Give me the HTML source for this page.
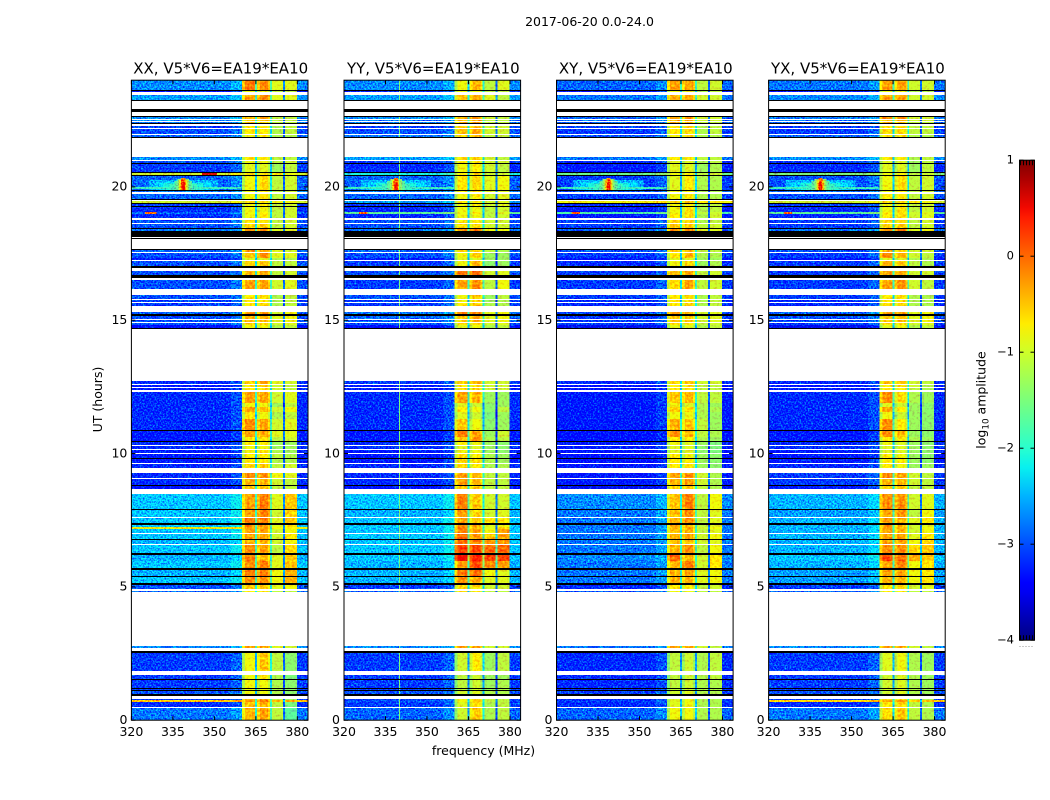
<!DOCTYPE html>
<html lang="en">
<head>
<meta charset="utf-8">
<title>2017-06-20 dynamic spectra</title>
<style>
html,body{margin:0;padding:0;background:#fff;}
svg{display:block;}
text{font-family:"DejaVu Sans","Liberation Sans",sans-serif;fill:#000;}
</style>
</head>
<body>
<svg id="chart" xmlns="http://www.w3.org/2000/svg" width="1050" height="800" viewBox="0 0 1050 800">
  <defs>
    <filter id="speckle-strong" filterUnits="userSpaceOnUse" x="0" y="0" width="1050" height="800" color-interpolation-filters="sRGB">
      <feTurbulence type="fractalNoise" baseFrequency="0.6" numOctaves="2" seed="7" result="n"/>
      <feColorMatrix in="n" type="matrix" values="0 0 0 0 .5  1 0 0 0 0  0 0 0 0 .5  0 0 0 0 1" result="g"/>
      <feComposite in="SourceGraphic" in2="g" operator="arithmetic" k1="0" k2="1" k3="1.7" k4="-0.85" result="c"/>
      <feComposite in="c" in2="SourceAlpha" operator="in"/>
    </filter>
    <filter id="speckle-weak" filterUnits="userSpaceOnUse" x="0" y="0" width="1050" height="800" color-interpolation-filters="sRGB">
      <feTurbulence type="fractalNoise" baseFrequency="0.4" numOctaves="2" seed="11" result="n"/>
      <feColorMatrix in="n" type="matrix" values="0 0 0 0 .5  1 0 0 0 0  0 0 0 0 .5  0 0 0 0 1" result="g"/>
      <feComposite in="SourceGraphic" in2="g" operator="arithmetic" k1="0" k2="1" k3="0.8" k4="-0.4" result="c"/>
      <feComposite in="c" in2="SourceAlpha" operator="in"/>
    </filter>
    <linearGradient id="jet-gradient" x1="0" y1="1" x2="0" y2="0"></linearGradient>
  </defs>
  <text x="589.5" y="26" font-size="12.5" text-anchor="middle">2017-06-20 0.0-24.0</text>
  <text x="483.5" y="755" font-size="12.5" text-anchor="middle">frequency (MHz)</text>
  <text transform="translate(102,399.5) rotate(-90)" font-size="12.5" text-anchor="middle">UT (hours)</text>
  <text transform="translate(985.5,400) rotate(-90)" font-size="12.5" text-anchor="middle">log<tspan font-size="8.8" dy="3">10</tspan><tspan dy="-3"> amplitude</tspan></text>
</svg>
<script>
// ---- Axis ranges ----
const freqMin = 320;
const freqMax = 383.85;
const utMax = 24;
const slotHours = 0.0375;              // one integration slot in UT hours
const xTickLabels = [320, 335, 350, 365, 380];
const yTickLabels = [0, 5, 10, 15, 20];
const colorTickLabels = [1, 0, -1, -2, -3, -4];

// ---- Time rows, top to bottom: first slot of each row and its kind ----
// d = measured, k = flagged (black), w = missing (white)
const rowTopSlots = [640,630,629,628,625,620,619,611,608,604,603,601,600,599,598,597,596,594,592,591,586,585,583,582,
563,560,559,557,556,548,547,545,544,530,529,528,526,521,520,519,517,516,514,513,508,506,502,500,497,496,492,491,489,483,482,481,
471,470,468,467,462,460,459,454,452,449,445,442,440,431,425,421,420,418,417,414,408,406,404,401,400,398,397,395,392,391,
339,336,335,333,332,330,328,317,313,308,301,290,289,283,279,278,275,274,271,270,267,266,262,261,257,256,252,247,242,241,235,234,231,
226,211,210,203,202,197,195,193,191,187,186,181,180,176,175,167,165,159,152,150,144,143,137,135,131,129,128,
74,72,69,67,49,45,41,40,32,31,30,29,26,24,21,20,18,13,12];
const rowKinds = ("d k d w d k w k w k d w d w d k w d w d w d k w " +
"d w d k d k d k d k d w d k w d k d k d d d w d w d k d k w k w " +
"k d w d d w d k w d k w d w d w d w d w d k d w d w d d k w " +
"d w d w d w d d d d d k d d k d w d w d w d k d w d w d w d k d w " +
"d k d w d k d d d w d k d w d k d d k d k d k d w d w " +
"d w k d w d k d k d k d k w d d d w d").split(" ");

// ---- Frequency columns (MHz edges), the band each one follows and its offset ----
// band: 0 = background, 1-4 = passbands. Offsets in tenths of log10 amplitude.
const columnEdges = [320,350.65,356.06,360.03,361.11,364.72,365.44,366.52,369.41,370.13,370.85,374.81,375.54,379.86,383.85];
const columnBand = [0,0,0,1,1,1,2,2,2,2,3,3,4,0];
const columnOffset = [-1,-1,1,-4,0,-16,-3,0,-3,-16,0,-18,0,-1];

// ---- Levels per measured row: [background, band1, band2, band3, band4], tenths of log10 amplitude ----
const xxLevels = [
[-26,-1,-2,-9,-9],[-32,-8,-8,-11,-11],[-25,-3,-2,-9,-9],[-26,-4,-3,-11,-11],[-26,-5,-5,-11,-11],[-27,-5,-5,-11,-11],[-30,-7,-7,-12,-11],[-29,-7,-7,-12,-11],[-28,-8,-7,-12,-12],[-26,-7,-7,-11,-11],
[-29,-8,-8,-11,-10],[-30,-9,-9,-13,-11],[-9,-6,-6,-7,-8],[-28,-8,-6,-11,-10],[-27,-8,-7,-11,-10],[-28,-8,-7,-11,-10],[-9,-6,-6,-8,-8],[-30,-8,-7,-11,-10],[-31,-8,-8,-11,-10],[-28,-8,-7,-11,-10],
[-31,-8,-7,-11,-10],[-29,-7,-7,-11,-10],[-29,-6,-5,-11,-10],[-27,-2,-2,-9,-9],[-28,-3,-3,-9,-10],[-29,-5,-2,-9,-9],[-32,-9,-9,-12,-12],[-29,-6,-5,-11,-11],[-29,-4,-3,-11,-10],[-29,-3,-3,-10,-9],
[-29,-7,-6,-12,-11],[-30,-7,-7,-12,-11],[-30,-7,-6,-12,-11],[-28,-3,-3,-10,-8],[-29,-4,-4,-9,-8],[-29,-4,-4,-9,-8],[-29,-6,-6,-10,-9],[-33,-8,-8,-12,-11],[-31,-6,-3,-9,-10],[-32,-7,-5,-10,-11],
[-32,-7,-6,-10,-11],[-31,-3,-3,-10,-9],[-31,-8,-8,-13,-11],[-31,-3,-4,-10,-8],[-31,-7,-8,-12,-11],[-31,-2,-3,-10,-9],[-32,-3,-3,-9,-9],[-32,-7,-7,-11,-10],[-31,-7,-7,-13,-13],[-31,-8,-8,-13,-13],
[-32,-8,-6,-12,-13],[-32,-7,-7,-11,-12],[-32,-7,-7,-12,-12],[-31,-6,-5,-11,-10],[-31,-2,-2,-8,-9],[-31,-4,-4,-10,-11],[-33,-5,-5,-11,-11],[-23,-3,-1,-9,-5],[-23,-3,-1,-10,-6],[-23,-1,-1,-9,-5],
[-23,-2,-2,-9,-7],[-7,-3,-3,-8,-7],[-23,-3,-3,-10,-8],[-23,-3,-3,-10,-7],[-24,-4,-4,-10,-8],[-23,-2,-3,-11,-6],[-24,-1,-4,-9,-5],[-23,-2,-1,-9,-5],[-24,-1,-1,-8,-4],[-23,-2,-2,-8,-4],
[-29,-5,-5,-9,-8],[-28,-7,-7,-11,-11],[-26,-3,-3,-9,-10],[-30,-8,-5,-11,-14],[-30,-8,-7,-12,-15],[-30,-8,-8,-12,-14],[-30,-8,-8,-12,-14],[-29,-8,-8,-12,-14],[-30,-4,-3,-11,-13],[-4,-2,-1,-5,-4],
[-31,-5,-4,-11,-15],[-27,-4,-3,-11,-17]];
const yyLevels = [
[-26,-8,-4,-11,-9],[-31,-8,-8,-11,-11],[-25,-5,-3,-9,-11],[-26,-4,-2,-10,-11],[-27,-4,-3,-11,-11],[-27,-4,-3,-11,-11],[-30,-5,-4,-10,-10],[-29,-5,-3,-10,-10],[-27,-6,-4,-11,-11],[-25,-6,-5,-10,-11],
[-30,-7,-7,-10,-10],[-31,-8,-7,-10,-11],[-20,-7,-6,-10,-10],[-28,-7,-6,-9,-8],[-27,-7,-6,-9,-9],[-28,-8,-7,-10,-9],[-25,-7,-7,-10,-9],[-30,-8,-7,-10,-9],[-31,-8,-8,-11,-10],[-16,-8,-7,-11,-9],
[-31,-8,-8,-11,-10],[-29,-7,-7,-10,-10],[-29,-6,-6,-10,-10],[-27,-2,-1,-8,-8],[-28,-6,-6,-11,-12],[-29,-8,-5,-13,-13],[-32,-9,-9,-13,-13],[-30,-8,-4,-14,-13],[-29,-1,0,-10,-9],[-30,-3,-2,-11,-8],
[-29,-8,-5,-13,-11],[-30,-8,-6,-13,-12],[-30,-7,-5,-12,-12],[-27,-2,-2,-9,-8],[-28,-5,-3,-9,-8],[-28,-5,-4,-9,-8],[-29,-7,-6,-10,-9],[-33,-9,-8,-12,-11],[-30,-5,-4,-10,-10],[-32,-7,-6,-10,-10],
[-32,-7,-6,-10,-10],[-31,-3,-4,-13,-13],[-31,-9,-10,-14,-13],[-31,-7,-8,-14,-11],[-31,-9,-10,-15,-13],[-31,-5,-8,-14,-13],[-32,-1,-3,-13,-10],[-32,-5,-2,-12,-11],[-31,-7,-8,-13,-14],[-31,-9,-9,-13,-14],
[-32,-8,-8,-13,-14],[-32,-6,-7,-12,-13],[-32,-6,-6,-12,-13],[-31,-6,-7,-12,-12],[-31,-3,-4,-11,-11],[-31,-3,-4,-11,-11],[-33,-5,-5,-11,-11],[-23,-1,-5,-10,-10],[-24,-3,-6,-10,-9],[-23,-3,-5,-7,-7],
[-23,-2,-4,-9,-8],[-23,-1,-4,-9,-6],[-23,-1,-3,-8,-3],[-23,0,-2,-5,-3],[-23,0,-1,-3,-3],[-23,2,2,0,0],[-23,5,4,2,2],[-24,-3,2,-2,-3],[-24,-1,0,-8,-9],[-24,-2,-3,-9,-9],
[-30,-6,-6,-10,-10],[-28,-7,-7,-11,-11],[-26,-3,-3,-10,-10],[-30,-10,-7,-13,-11],[-30,-11,-10,-13,-13],[-30,-11,-10,-13,-12],[-30,-11,-10,-13,-12],[-29,-10,-9,-12,-12],[-30,-8,-5,-11,-11],[-29,-8,-5,-11,-11],
[-30,-9,-6,-12,-11],[-28,-10,-5,-12,-11]];
const xyLevels = [
[-28,-3,-3,-11,-10],[-32,-8,-8,-12,-11],[-27,-4,-3,-10,-10],[-28,-3,-3,-10,-10],[-28,-4,-4,-10,-10],[-28,-4,-4,-11,-11],[-30,-7,-6,-12,-11],[-30,-7,-6,-12,-11],[-29,-8,-6,-12,-12],[-27,-7,-7,-11,-11],
[-31,-9,-9,-12,-11],[-32,-9,-9,-13,-12],[-15,-8,-7,-11,-10],[-30,-9,-7,-12,-12],[-29,-8,-7,-12,-12],[-30,-8,-7,-12,-12],[-7,-6,-5,-7,-7],[-31,-8,-7,-12,-11],[-32,-8,-7,-12,-11],[-17,-8,-6,-11,-10],
[-32,-7,-6,-12,-10],[-30,-6,-6,-12,-11],[-30,-5,-5,-11,-10],[-28,-2,-2,-9,-9],[-29,-5,-5,-11,-11],[-30,-7,-4,-12,-12],[-33,-9,-9,-13,-13],[-31,-8,-6,-13,-12],[-30,-4,-3,-11,-10],[-30,-6,-3,-11,-10],
[-30,-7,-6,-12,-11],[-31,-7,-7,-12,-11],[-31,-7,-6,-12,-11],[-29,-3,-3,-10,-9],[-30,-5,-5,-10,-9],[-30,-5,-5,-10,-9],[-30,-7,-7,-11,-10],[-34,-9,-9,-12,-11],[-31,-6,-5,-10,-10],[-33,-7,-6,-11,-11],
[-33,-7,-7,-11,-11],[-32,-5,-4,-11,-11],[-32,-8,-9,-12,-13],[-32,-5,-6,-12,-12],[-32,-8,-8,-12,-13],[-32,-4,-5,-11,-13],[-33,-2,-4,-11,-12],[-33,-7,-7,-12,-13],[-32,-8,-9,-13,-15],[-32,-9,-9,-14,-15],
[-33,-9,-9,-14,-15],[-33,-7,-8,-13,-14],[-33,-7,-7,-13,-14],[-32,-7,-7,-13,-14],[-32,-3,-2,-10,-12],[-32,-4,-3,-10,-12],[-34,-6,-5,-11,-12],[-26,-5,-1,-11,-8],[-27,-5,-2,-11,-9],[-27,-4,-2,-11,-9],
[-27,-4,-4,-11,-9],[-27,-4,-3,-10,-8],[-27,-5,-4,-11,-9],[-27,-4,-3,-10,-8],[-27,-5,-5,-10,-9],[-27,-4,-2,-11,-8],[-26,0,-4,-10,-7],[-27,-4,-1,-10,-7],[-27,-4,-3,-9,-8],[-27,-4,-4,-9,-8],
[-31,-7,-7,-11,-10],[-29,-8,-8,-11,-11],[-27,-3,-3,-10,-11],[-31,-11,-10,-12,-11],[-31,-11,-10,-12,-11],[-31,-11,-10,-12,-12],[-31,-11,-10,-12,-12],[-30,-10,-9,-12,-12],[-31,-9,-8,-12,-12],[-30,-9,-8,-12,-12],
[-31,-9,-8,-12,-12],[-28,-8,-8,-12,-12]];
const yxLevels = [
[-27,-3,-3,-10,-10],[-32,-8,-8,-12,-12],[-26,-3,-3,-10,-10],[-27,-2,-2,-10,-10],[-27,-4,-4,-10,-10],[-28,-4,-4,-11,-11],[-30,-7,-6,-11,-11],[-30,-6,-6,-11,-11],[-28,-7,-6,-12,-12],[-26,-7,-7,-12,-11],
[-30,-9,-9,-13,-11],[-31,-9,-9,-13,-11],[-14,-8,-7,-11,-10],[-29,-8,-6,-11,-10],[-28,-8,-7,-11,-10],[-29,-7,-7,-11,-10],[-9,-6,-6,-7,-8],[-30,-8,-7,-11,-10],[-31,-8,-7,-11,-10],[-16,-7,-6,-10,-9],
[-31,-7,-6,-10,-9],[-30,-6,-6,-11,-10],[-30,-6,-5,-11,-10],[-27,-2,-1,-9,-8],[-29,-4,-5,-10,-10],[-30,-2,-4,-10,-11],[-33,-9,-9,-12,-12],[-30,-4,-5,-11,-12],[-30,-3,-3,-10,-10],[-30,-3,-2,-10,-11],
[-30,-7,-6,-12,-12],[-31,-7,-6,-12,-12],[-31,-6,-6,-12,-12],[-28,-3,-3,-9,-8],[-29,-5,-4,-9,-8],[-29,-5,-4,-9,-8],[-30,-7,-6,-10,-9],[-34,-9,-8,-12,-11],[-31,-5,-5,-10,-11],[-32,-7,-6,-10,-12],
[-32,-7,-7,-11,-12],[-31,-2,-6,-12,-13],[-31,-9,-10,-13,-14],[-31,-3,-7,-13,-14],[-31,-8,-10,-13,-14],[-31,-2,-7,-13,-14],[-32,-2,-4,-13,-14],[-32,-7,-7,-12,-13],[-31,-8,-9,-13,-14],[-31,-9,-9,-13,-14],
[-32,-9,-9,-13,-14],[-32,-7,-8,-13,-14],[-32,-7,-7,-13,-14],[-31,-7,-8,-13,-13],[-30,-2,-3,-10,-11],[-30,-4,-4,-10,-11],[-32,-6,-5,-11,-11],[-24,-2,-2,-10,-9],[-25,-3,-2,-11,-8],[-24,-3,-4,-9,-7],
[-24,-3,-4,-10,-9],[-24,-3,-4,-10,-8],[-24,-3,-4,-10,-8],[-24,-3,-3,-9,-7],[-24,-3,-3,-8,-6],[-24,-2,-2,-6,-5],[-23,2,0,-4,-5],[-24,-3,-1,-8,-7],[-25,-3,-3,-8,-7],[-25,-4,-4,-8,-7],
[-30,-7,-6,-10,-9],[-28,-7,-7,-11,-11],[-26,-3,-3,-10,-11],[-30,-9,-8,-12,-13],[-30,-10,-9,-12,-13],[-30,-10,-9,-12,-13],[-30,-10,-9,-12,-13],[-29,-10,-9,-12,-13],[-30,-6,-6,-11,-12],[-5,-3,-2,-6,-5],
[-31,-7,-6,-11,-12],[-27,-6,-5,-11,-12]];

// ---- Solar burst seen in every product near 339 MHz, painted in layers ----
const burstFreqLow = [326.2,328.7,331.6,333.7,320,335.5,336.6,337.3,337.7,338,338.2];
const burstFreqHigh = [351.4,348.9,346,343.8,359.7,342,340.9,340.2,339.8,339.5,339.3];
const burstSlotTop = [540,538,537,536,533,539,541,540,539,542,538];
const burstSlotBottom = [530,530,530,530,531,530,530,530,530,530,530];
const burstLevel = [-25,-23,-21,-19,-19,-17,-14,-9,-4,0,5];

// ---- Narrow interference streaks ----
const streakPanel = [0,0,1,2,3];
const streakFreqLow = [345.6,325,325.5,325.5,325.5];
const streakFreqHigh = [351,329,328.5,328.5,328.5];
const streakSlotTop = [547,508,508,508,508];
const streakSlotBottom = [545,506,506,506,506];
const streakLevel = [6,0,1,1,1];

// ---- Constant-frequency spur: [panel, MHz, level] ----
const spurPanel = [1];
const spurFreq = [339.9];
const spurLevel = [-15];

const panelTitles = ["XX, V5*V6=EA19*EA10","YY, V5*V6=EA19*EA10","XY, V5*V6=EA19*EA10","YX, V5*V6=EA19*EA10"];
const panelKeys = ["xx","yy","xy","yx"];
const panelLevels = [xxLevels,yyLevels,xyLevels,yxLevels];
const panelLefts = [131.4,344,556.5,768.6];
const panelWidth = 176.6;
const panelTop = 80.2;
const panelHeight = 640;

const NS = "http://www.w3.org/2000/svg";
const svg = document.getElementById("chart");

function make(tag, attrs, parent){
  const e = document.createElementNS(NS, tag);
  for (const k in attrs) e.setAttribute(k, attrs[k]);
  parent.appendChild(e);
  return e;
}
function clamp01(v){ return Math.max(0, Math.min(1, v)); }
function jet(level){
  const t = clamp01((level + 4) / 5);
  const r = t < 0.35 ? 0 : t < 0.66 ? (t - 0.35) / 0.31 : t < 0.89 ? 1 : 1 - (t - 0.89) / 0.11 * 0.5;
  const g = t < 0.125 ? 0 : t < 0.375 ? (t - 0.125) / 0.25 : t < 0.64 ? 1 : t < 0.91 ? 1 - (t - 0.64) / 0.27 : 0;
  const b = t < 0.11 ? 0.5 + t / 0.11 * 0.5 : t < 0.34 ? 1 : t < 0.65 ? 1 - (t - 0.34) / 0.31 : 0;
  return "rgb(" + Math.round(r * 255) + "," + Math.round(g * 255) + "," + Math.round(b * 255) + ")";
}
function xAxis(freq, left){ return left + (freq - freqMin) / (freqMax - freqMin) * panelWidth; }
function yAxis(hours){ return panelTop + (utMax - hours) / utMax * panelHeight; }
function ySlot(slot){ return yAxis(slot * slotHours); }

panelKeys.forEach(function(key, p){
  const left = panelLefts[p];
  const levels = panelLevels[p];
  const panel = make("g", {}, svg);
  
  
  const soft = make("g", {filter:"url(#speckle-strong)", "shape-rendering":"crispEdges"}, panel);
  
  
  const hard = make("g", {filter:"url(#speckle-weak)", "shape-rendering":"crispEdges"}, panel);
  
  
  const flags = make("g", {"shape-rendering":"crispEdges"}, panel);
  
  

  let dataRow = 0;
  rowTopSlots.forEach(function(top, i){
    const bottom = i + 1 < rowTopSlots.length ? rowTopSlots[i + 1] : 0;
    const y0 = ySlot(top), y1 = ySlot(bottom);
    if (rowKinds[i] === "k") {
      const flagged = make("rect", {x:left, y:y0, width:panelWidth, height:y1 - y0, fill:"#000"}, flags);
      
      
    } else if (rowKinds[i] === "d") {
      const row = levels[dataRow];
      columnBand.forEach(function(band, c){
        const x0 = xAxis(columnEdges[c], left), x1 = xAxis(columnEdges[c + 1], left);
        const cell = make("rect", {x:x0, y:y0, width:x1 - x0, height:y1 - y0, fill:jet((row[band] + columnOffset[c]) / 10)}, band === 0 ? soft : hard);
        
        
      });
      spurPanel.forEach(function(sp, s){
        if (sp !== p) return;
        const spur = make("rect", {x:xAxis(spurFreq[s], left), y:y0, width:1, height:y1 - y0, fill:jet(spurLevel[s] / 10)}, hard);
        
        
      });
      dataRow++;
    }
  });

  burstLevel.forEach(function(level, b){
    const x0 = xAxis(burstFreqLow[b], left), x1 = xAxis(burstFreqHigh[b], left);
    const y0 = ySlot(burstSlotTop[b]), y1 = ySlot(burstSlotBottom[b]);
    const burst = make("rect", {x:x0, y:y0, width:x1 - x0, height:y1 - y0, fill:jet(level / 10)}, soft);
    
    
  });
  streakPanel.forEach(function(sp, s){
    if (sp !== p) return;
    const x0 = xAxis(streakFreqLow[s], left), x1 = xAxis(streakFreqHigh[s], left);
    const y0 = ySlot(streakSlotTop[s]), y1 = ySlot(streakSlotBottom[s]);
    const streak = make("rect", {x:x0, y:y0, width:x1 - x0, height:y1 - y0, fill:jet(streakLevel[s] / 10)}, soft);
    
    
  });

  // frame
  const frame = make("rect", {x:left, y:panelTop, width:panelWidth, height:panelHeight, fill:"none", stroke:"#000", "stroke-width":1}, panel);
  
  

  // title
  const title = make("text", {x:left + panelWidth / 2 + 1, y:73.5, "font-size":15, "text-anchor":"middle"}, panel);
  title.textContent = panelTitles[p];
  
  

  // x ticks
  xTickLabels.forEach(function(v){
    const x = xAxis(v, left);
    const tickBottom = make("line", {x1:x, x2:x, y1:panelTop + panelHeight, y2:panelTop + panelHeight - 4, stroke:"#000"}, panel);
    
    
    const tickTop = make("line", {x1:x, x2:x, y1:panelTop, y2:panelTop + 4, stroke:"#000"}, panel);
    
    
    const label = make("text", {x:x, y:736, "font-size":12.5, "text-anchor":"middle"}, panel);
    label.textContent = v;
    
    
  });
  // y ticks
  yTickLabels.forEach(function(v){
    const y = yAxis(v);
    const tickLeft = make("line", {x1:left, x2:left + 4, y1:y, y2:y, stroke:"#000"}, panel);
    
    
    const tickRight = make("line", {x1:left + panelWidth, x2:left + panelWidth - 4, y1:y, y2:y, stroke:"#000"}, panel);
    
    
    const label = make("text", {x:left - 4, y:y + 3.8, "font-size":12.5, "text-anchor":"end"}, panel);
    label.textContent = v;
    
    
  });
});

// ---- Colorbar ----
const barX = 1019.5, barW = 15, barTop = 160.2, barH = 480;
function colorY(level){ return barTop + (1 - level) / 5 * barH; }
const gradient = document.getElementById("jet-gradient");
[-40,-35,-34,-30,-27,-25,-22,-20,-15,-10,-7,-5,-2,0,4,5,8,10].forEach(function(tenths){
  make("stop", {offset:(tenths + 40) / 50, "stop-color":jet(tenths / 10)}, gradient);
});
const bar = make("g", {}, svg);


const barFill = make("rect", {x:barX, y:barTop, width:barW, height:barH, fill:"url(#jet-gradient)", stroke:"#000", "stroke-width":1}, bar);


colorTickLabels.forEach(function(v){
  const y = colorY(v);
  const tickA = make("line", {x1:barX, x2:barX + 4, y1:y, y2:y, stroke:"#000"}, bar);
  
  
  const tickB = make("line", {x1:barX + barW, x2:barX + barW - 4, y1:y, y2:y, stroke:"#000"}, bar);
  
  
  const label = make("text", {x:1014, y:y + 3.5, "font-size":11.5, "text-anchor":"end"}, bar);
  label.textContent = v < 0 ? "\u2212" + Math.abs(v) : String(v);
  
  
});
[1,4,7,10,13].forEach(function(dx){
  const topTick = make("line", {x1:barX + dx, x2:barX + dx, y1:barTop, y2:barTop + 5, stroke:"#000"}, bar);
  
  
  const bottomTick = make("line", {x1:barX + dx, x2:barX + dx, y1:barTop + barH, y2:barTop + barH - 5, stroke:"#000"}, bar);
  
  
  const dot = make("rect", {x:barX + dx - 1, y:646, width:1, height:1, fill:"#999"}, bar);
  
  
});
</script>
</body>
</html>
